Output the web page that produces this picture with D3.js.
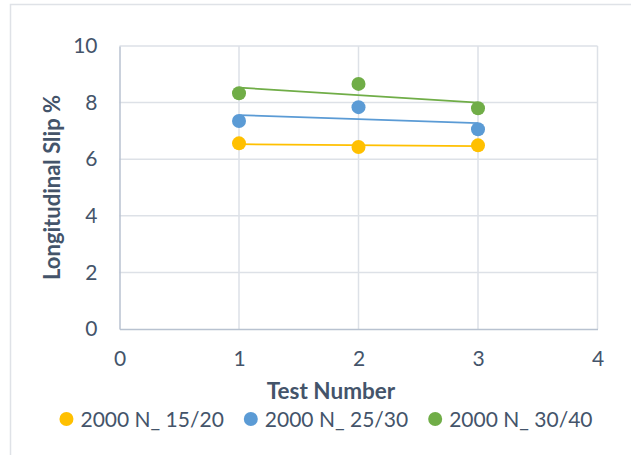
<!DOCTYPE html>
<html>
<head>
<meta charset="utf-8">
<script src="https://cdn.jsdelivr.net/npm/d3@7"></script>
<style>
  html, body { margin: 0; padding: 0; background: #fff; }
  svg { display: block; }
  text { font-family: Lato, "Open Sans", sans-serif; fill: #44546a; }
</style>
</head>
<body>
<svg id="chart" width="631" height="455"></svg>
<script>
// ---- data ----
const testNumbers = [1, 2, 3];
const seriesNames = ["2000 N_ 15/20", "2000 N_ 25/30", "2000 N_ 30/40"];
const slip1520 = [6.56, 6.43, 6.49];
const slip2530 = [7.35, 7.84, 7.06];
const slip3040 = [8.33, 8.66, 7.80];
const seriesColors = ["#FFC000", "#5B9BD5", "#70AD47"];
const xTicks = [0, 1, 2, 3, 4];
const yTicks = [0, 2, 4, 6, 8, 10];

const seriesValues = [slip1520, slip2530, slip3040];

(function () {
const svg = d3.select("#chart");

// outer chart frame
svg.append("rect").attr("x", 10.5).attr("y", 4.5).attr("width", 640).attr("height", 470)
  .attr("fill", "#fff").attr("stroke", "#dfe2e7").attr("stroke-width", 1.5);

const pl = 119.5, pr = 597.5, pt = 46, pb = 329;
const x = d3.scaleLinear().domain([0, 4]).range([pl, pr]);
const y = d3.scaleLinear().domain([0, 10]).range([pb, pt]);

// gridlines
const grid = svg.append("g");
grid.selectAll("line.h").data(yTicks.filter(d => d > 0)).enter().append("line")
  .attr("x1", pl).attr("x2", pr)
  .attr("y1", d => y(d)).attr("y2", d => y(d))
  .attr("stroke", "#dde1e7").attr("stroke-width", 1.5);
grid.selectAll("line.v").data(xTicks.filter(d => d > 0)).enter().append("line")
  .attr("x1", d => x(d)).attr("x2", d => x(d))
  .attr("y1", pt).attr("y2", pb)
  .attr("stroke", "#dde1e7").attr("stroke-width", 1.5);

// axes
const xAxis = d3.axisBottom(x).tickValues(xTicks).tickSize(0).tickPadding(22).tickFormat(d3.format("d"));
const yAxis = d3.axisLeft(y).tickValues(yTicks).tickSize(0).tickPadding(22).tickFormat(d3.format("d"));

const gx = svg.append("g").attr("transform", `translate(0,${pb})`).call(xAxis);
const gy = svg.append("g").attr("transform", `translate(${pl},0)`).call(yAxis);
[gx, gy].forEach(g => {
  g.select(".domain").attr("stroke", "#b8c2d0").attr("stroke-width", 1.5);
  g.selectAll("text").attr("font-size", 21).attr("fill", "#44546a")
    .style("font-family", "Lato, sans-serif");
});

// trendlines (least-squares fit of each series)
function fit(xs, ys) {
  const mx = d3.mean(xs), my = d3.mean(ys);
  const num = d3.sum(xs, (xv, i) => (xv - mx) * (ys[i] - my));
  const den = d3.sum(xs, xv => (xv - mx) * (xv - mx));
  const b = num / den;
  return xv => my + b * (xv - mx);
}
const line = d3.line().x(d => x(d[0])).y(d => y(d[1]));
seriesValues.forEach((vals, si) => {
  const f = fit(testNumbers, vals);
  const x0 = d3.min(testNumbers), x1 = d3.max(testNumbers);
  svg.append("path").datum([[x0, f(x0)], [x1, f(x1)]])
    .attr("d", line).attr("fill", "none")
    .attr("stroke", seriesColors[si]).attr("stroke-width", 1.75);
});

// points
seriesValues.forEach((vals, si) => {
  svg.append("g").selectAll("circle").data(vals).enter().append("circle")
    .attr("cx", (d, i) => x(testNumbers[i]))
    .attr("cy", d => y(d))
    .attr("r", 7)
    .attr("fill", seriesColors[si]);
});

// axis titles
svg.append("text").attr("x", 331).attr("y", 399).attr("text-anchor", "middle")
  .attr("font-size", 22.5).attr("font-weight", "bold").text("Test Number");
svg.append("text").attr("transform", "translate(60,187.5) rotate(-90)")
  .attr("text-anchor", "middle").attr("font-size", 22).attr("font-weight", "bold")
  .text("Longitudinal Slip %");

// legend
const lg = svg.append("g");
const items = lg.selectAll("g").data(seriesNames).enter().append("g");
items.append("circle").attr("r", 7).attr("cy", 0).attr("fill", (d, i) => seriesColors[i]);
items.append("text").attr("x", 14).attr("y", 7.5).attr("font-size", 21).text(d => d);
let cursor = 0;
items.each(function () {
  const g = d3.select(this);
  const tw = g.select("text").node().getComputedTextLength();
  g.attr("transform", `translate(${cursor + 7},0)`);
  cursor += 14 + 7 + tw + 20;
});
const totalW = cursor - 20;
lg.attr("transform", `translate(${326 - totalW / 2},419)`);
})();
</script>
</body>
</html>
